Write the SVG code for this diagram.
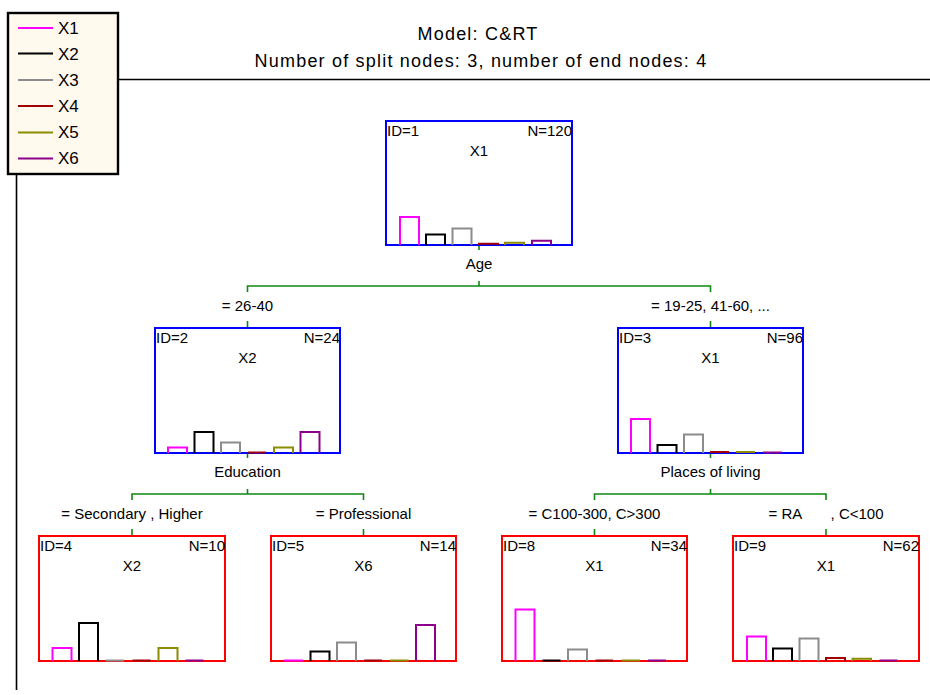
<svg xmlns="http://www.w3.org/2000/svg" width="930" height="695" viewBox="0 0 930 695">
<style>
text{font-family:"Liberation Sans",Arial,sans-serif;fill:#000}
.t{font-size:18px;text-anchor:middle;letter-spacing:1.2px}
.lg{font-size:17px}
.nt{font-size:15px}
.c{text-anchor:middle}
.e{text-anchor:end}
.split{fill:#fff;stroke:#0000ff;stroke-width:2}
.leaf{fill:#fff;stroke:#ff0000;stroke-width:2}
.b{fill:none;stroke-width:2}
.k1{stroke:#ff00ff}.k2{stroke:#000000}.k3{stroke:#8c8c8c}.k4{stroke:#a00000}.k5{stroke:#8c8c00}.k6{stroke:#8c008c}
.con{fill:none;stroke:#118811;stroke-width:1.6}
.ax{fill:none;stroke:#000;stroke-width:1.6}
</style>
<rect width="930" height="695" fill="#fff"/>
<g id="axes">
<path class="ax" d="M118,79.5H930M16.5,174V690"/>
</g>
<g id="title">
<text class="t" x="478" y="40">Model: C&amp;RT</text>
<text class="t" x="481" y="67">Number of split nodes: 3, number of end nodes: 4</text>
</g>
<g id="legend">
<rect x="8" y="13" width="110" height="161" fill="#fff9ee" stroke="#000" stroke-width="2.4"/>
<path class="b k1" d="M18,28H53"/><text class="lg" x="58" y="34">X1</text>
<path class="b k2" d="M18,53.5H53"/><text class="lg" x="58" y="60">X2</text>
<path class="b k3" d="M18,80H53"/><text class="lg" x="58" y="86">X3</text>
<path class="b k4" d="M18,106H53"/><text class="lg" x="58" y="112">X4</text>
<path class="b k5" d="M18,132.5H53"/><text class="lg" x="58" y="138">X5</text>
<path class="b k6" d="M18,158.5H53"/><text class="lg" x="58" y="164">X6</text>
</g>
<g id="connectors">
<path class="con" d="M479,245V250M479,281V286M247.5,292V286H710.5V292M247.5,321V328M710.5,321V328"/>
<path class="con" d="M247.5,453V458M247.5,489V494M132,500V494H363.5V500M132,529V536M363.5,529V536"/>
<path class="con" d="M710.5,453V458M710.5,489V494M594.5,500V494H826V500M594.5,529V536M826,529V536"/>
<text class="nt c" x="479" y="269">Age</text>
<text class="nt c" x="247.5" y="311">= 26-40</text>
<text class="nt c" x="710.5" y="311">= 19-25, 41-60, ...</text>
<text class="nt c" x="247.5" y="477">Education</text>
<text class="nt c" x="710.5" y="477">Places of living</text>
<text class="nt c" x="132" y="519">= Secondary , Higher</text>
<text class="nt c" x="363.5" y="519">= Professional</text>
<text class="nt c" x="594.5" y="519">= C100-300, C&gt;300</text>
<text class="nt c" x="826" y="519" style="white-space:pre">= RA       , C&lt;100</text>
</g>
<g id="node1">
<rect class="split" x="386" y="121" width="186" height="124"/>
<text class="nt" x="387" y="136">ID=1</text><text class="nt e" x="572" y="136">N=120</text><text class="nt c" x="479" y="156">X1</text>
<path class="b k1" d="M400,245V217H419V245"/>
<path class="b k2" d="M426,245V234.5H445V245"/>
<path class="b k3" d="M452.5,245V228.5H471.5V245"/>
<path class="b k4" d="M479,245V243.7H498V245"/>
<path class="b k5" d="M505,245V242.7H524V245"/>
<path class="b k6" d="M532,245V240.7H551V245"/>
</g>
<g id="node2">
<rect class="split" x="155" y="328" width="185" height="125"/>
<text class="nt" x="156" y="343">ID=2</text><text class="nt e" x="340" y="343">N=24</text><text class="nt c" x="247.5" y="363">X2</text>
<path class="b k1" d="M168,453V447.5H187V453"/>
<path class="b k2" d="M194.5,453V432H213.5V453"/>
<path class="b k3" d="M221,453V442.5H240V453"/>
<path class="b k4" d="M248,452.5H266"/>
<path class="b k5" d="M274,453V447.5H293V453"/>
<path class="b k6" d="M300.5,453V432H319.5V453"/>
</g>
<g id="node3">
<rect class="split" x="618" y="328" width="185" height="125"/>
<text class="nt" x="619" y="343">ID=3</text><text class="nt e" x="803" y="343">N=96</text><text class="nt c" x="710.5" y="363">X1</text>
<path class="b k1" d="M631,453V419H650V453"/>
<path class="b k2" d="M657.5,453V445H676.5V453"/>
<path class="b k3" d="M684,453V434.5H703V453"/>
<path class="b k4" d="M710,452H729"/>
<path class="b k5" d="M736,452H755"/>
<path class="b k6" d="M763,452.5H782"/>
</g>
<g id="node4">
<rect class="leaf" x="39" y="536" width="186" height="125"/>
<text class="nt" x="40" y="551">ID=4</text><text class="nt e" x="225" y="551">N=10</text><text class="nt c" x="132" y="571">X2</text>
<path class="b k1" d="M52.5,661V648H71.5V661"/>
<path class="b k2" d="M79,661V623H98V661"/>
<path class="b k3" d="M106,660.5H124"/>
<path class="b k4" d="M132.5,660.5H150.5"/>
<path class="b k5" d="M158.5,661V648H177.5V661"/>
<path class="b k6" d="M185.5,660.5H203.5"/>
</g>
<g id="node5">
<rect class="leaf" x="271" y="536" width="185" height="125"/>
<text class="nt" x="272" y="551">ID=5</text><text class="nt e" x="456" y="551">N=14</text><text class="nt c" x="363.5" y="571">X6</text>
<path class="b k1" d="M284,660.5H303"/>
<path class="b k2" d="M310.5,661V651.5H329.5V661"/>
<path class="b k3" d="M337,661V642.5H356V661"/>
<path class="b k4" d="M364,660.5H382"/>
<path class="b k5" d="M390,660.5H408.5"/>
<path class="b k6" d="M416,661V625H435V661"/>
</g>
<g id="node8">
<rect class="leaf" x="502" y="536" width="185" height="125"/>
<text class="nt" x="503" y="551">ID=8</text><text class="nt e" x="687" y="551">N=34</text><text class="nt c" x="594.5" y="571">X1</text>
<path class="b k1" d="M515.5,661V609.5H534.5V661"/>
<path class="b k2" d="M542.5,660.5H560.5"/>
<path class="b k3" d="M568,661V649.5H587V661"/>
<path class="b k4" d="M595.5,660.5H613"/>
<path class="b k5" d="M621.5,660.5H640"/>
<path class="b k6" d="M648,660.5H666"/>
</g>
<g id="node9">
<rect class="leaf" x="733" y="536" width="186" height="125"/>
<text class="nt" x="734" y="551">ID=9</text><text class="nt e" x="919" y="551">N=62</text><text class="nt c" x="826" y="571">X1</text>
<path class="b k1" d="M747,661V636.5H766V661"/>
<path class="b k2" d="M773,661V648.5H792V661"/>
<path class="b k3" d="M799.5,661V638.5H818.5V661"/>
<path class="b k4" d="M826,661V658H845V661"/>
<path class="b k5" d="M852.5,661V658.7H871V661"/>
<path class="b k6" d="M879.5,660.5H897.5"/>
</g>
</svg>
